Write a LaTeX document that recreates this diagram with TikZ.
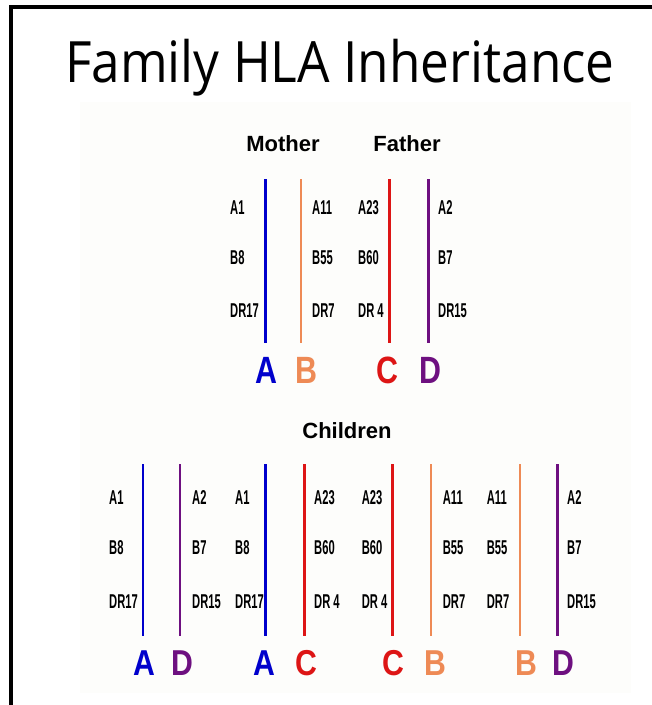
\documentclass[tikz,border=0pt]{standalone}
\usepackage{fontspec}
\setmainfont{Liberation Sans}
\newfontfamily\titlefont[FakeStretch=0.9]{Open Sans}
\newfontfamily\allelefont[FakeStretch=0.56]{Liberation Sans}
\newfontfamily\parentletterfont[FakeStretch=0.8]{Liberation Sans}
\newfontfamily\childletterfont[FakeStretch=0.84]{Liberation Sans}

\definecolor{hapA}{HTML}{0000CC}
\definecolor{hapB}{HTML}{EE8A55}
\definecolor{hapC}{HTML}{DD1515}
\definecolor{hapD}{HTML}{6E1080}
\definecolor{panel}{HTML}{FDFDFB}

\tikzset{
  frame/.style={line width=4pt, line cap=rect},
  chromosome/.style={line width=2.8pt},
  allele/.style={font=\allelefont\bfseries\fontsize{20}{20}\selectfont, inner sep=0pt, anchor=west},
  heading/.style={font=\bfseries\fontsize{22}{22}\selectfont, inner sep=0pt},
  parentletter/.style={font=\parentletterfont\bfseries\fontsize{38}{38}\selectfont, inner sep=0pt},
  childletter/.style={font=\childletterfont\bfseries\fontsize{36}{36}\selectfont, inner sep=0pt}
}

% one chromosome bar: name, x, top y, bottom y, colour
\newcommand\hlabar[5]{%
  \coordinate (#1-top) at (#2,#3);
  \coordinate (#1-bot) at (#2,#4);
  \draw[chromosome, #5] (#1-top) -- (#1-bot);
}
% three allele labels in a column: name, left x, y of A row, y of B row, y of DR row, texts
\newcommand\allelecol[8]{%
  \node[allele] (#1-a) at (#2,#3) {#6};
  \node[allele] (#1-b) at (#2,#4) {#7};
  \node[allele] (#1-dr) at (#2,#5) {#8};
}

\begin{document}
\begin{tikzpicture}[x=1pt,y=-1pt]
  \useasboundingbox (0,0) rectangle (652,705);
  \fill[white] (0,0) rectangle (652,705);

  % outer frame (top and left edges)
  \draw[frame] (11,7) -- (660,7);
  \draw[frame] (11,7) -- (11,712);

  % title
  \node[font=\titlefont\fontsize{57}{57}\selectfont, inner sep=0pt, anchor=base] (title) at (340,82) {Family HLA Inheritance};

  % light panel behind the pedigree
  \fill[panel] (80,102) rectangle (631,693);

  % ---------- parents ----------
  \node[heading] (mother) at (283,144) {Mother};
  \node[heading] (father) at (407,144) {Father};

  \hlabar{pA}{265.7}{179}{343}{hapA}
  \hlabar{pB}{301}{179}{343}{hapB}
  \hlabar{pC}{389.3}{179}{343}{hapC}
  \hlabar{pD}{428.3}{179}{343}{hapD}

  \allelecol{mA}{230}{208}{258}{311}{A1}{B8}{DR17}
  \allelecol{mB}{312}{208}{258}{311}{A11}{B55}{DR7}
  \allelecol{fC}{358}{208}{258}{311}{A23}{B60}{DR 4}
  \allelecol{fD}{438}{208}{258}{311}{A2}{B7}{DR15}

  \node[parentletter, text=hapA] (lA) at (266,370) {A};
  \node[parentletter, text=hapB] (lB) at (306,370) {B};
  \node[parentletter, text=hapC] (lC) at (387,370) {C};
  \node[parentletter, text=hapD] (lD) at (430,370) {D};

  % ---------- children ----------
  \node[heading] (children) at (347,431) {Children};

  \hlabar{c1A}{143}{464}{636}{hapA}
  \hlabar{c1D}{180}{464}{636}{hapD}
  \hlabar{c2A}{265.7}{464}{636}{hapA}
  \hlabar{c2C}{304.3}{464}{636}{hapC}
  \hlabar{c3C}{392.7}{464}{636}{hapC}
  \hlabar{c3B}{431}{464}{636}{hapB}
  \hlabar{c4B}{520}{464}{636}{hapB}
  \hlabar{c4D}{557.3}{464}{636}{hapD}

  \allelecol{k1A}{109}{498}{548}{602}{A1}{B8}{DR17}
  \allelecol{k1D}{192}{498}{548}{602}{A2}{B7}{DR15}
  \allelecol{k2A}{235}{498}{548}{602}{A1}{B8}{DR17}
  \allelecol{k2C}{314}{498}{548}{602}{A23}{B60}{DR 4}
  \allelecol{k3C}{361.7}{498}{548}{602}{A23}{B60}{DR 4}
  \allelecol{k3B}{442.7}{498}{548}{602}{A11}{B55}{DR7}
  \allelecol{k4B}{486.7}{498}{548}{602}{A11}{B55}{DR7}
  \allelecol{k4D}{567}{498}{548}{602}{A2}{B7}{DR15}

  \node[childletter, text=hapA] (k1lA) at (144,663) {A};
  \node[childletter, text=hapD] (k1lD) at (182,663) {D};
  \node[childletter, text=hapA] (k2lA) at (264,663) {A};
  \node[childletter, text=hapC] (k2lC) at (306,663) {C};
  \node[childletter, text=hapC] (k3lC) at (393,663) {C};
  \node[childletter, text=hapB] (k3lB) at (435,663) {B};
  \node[childletter, text=hapB] (k4lB) at (526,663) {B};
  \node[childletter, text=hapD] (k4lD) at (563,663) {D};
\end{tikzpicture}
\end{document}
